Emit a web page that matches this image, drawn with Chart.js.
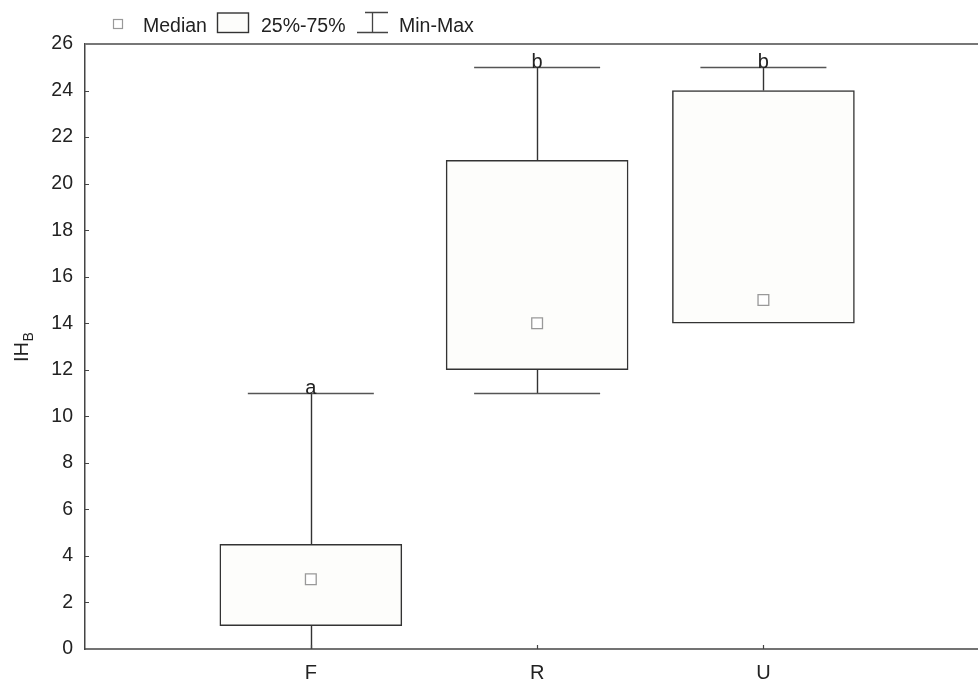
<!DOCTYPE html>
<html>
<head>
<meta charset="utf-8">
<script src="https://cdn.jsdelivr.net/npm/chart.js@4.4.1/dist/chart.umd.min.js"></script>
<style>
html,body{margin:0;padding:0;background:#fff;overflow:hidden;}
#wrap{width:978px;height:682px;}
</style>
</head>
<body>
<div id="wrap"><canvas id="c" width="978" height="682"></canvas></div>
<script>
const categories = ['F', 'R', 'U'];
const minVals = [0, 11, 14];
const q1Vals = [1, 12, 14];
const medianVals = [3, 14, 15];
const q3Vals = [4.5, 21, 24];
const maxVals = [11, 25, 25];
const groupLetters = ['a', 'b', 'b'];
const yTicks = [0, 2, 4, 6, 8, 10, 12, 14, 16, 18, 20, 22, 24, 26];
const legendLabels = ['Median', '25%-75%', 'Min-Max'];
const yTitle = 'IH';
const yTitleSub = 'B';

const FONT = '"Liberation Sans", Arial, sans-serif';
const TXT = '#222';

const extras = {
  id: 'extras',
  beforeDatasetsDraw(chart) {
    const {ctx, scales: {x, y}} = chart;
    const capHalf = 63;
    ctx.save();
    ctx.strokeStyle = '#333';
    ctx.lineWidth = 1.4;
    categories.forEach((c, i) => {
      const px = Math.round(x.getPixelForValue(i)) + 0.5;
      ctx.beginPath();
      ctx.moveTo(px, y.getPixelForValue(q3Vals[i]));
      ctx.lineTo(px, y.getPixelForValue(maxVals[i]));
      ctx.moveTo(px, y.getPixelForValue(q1Vals[i]));
      ctx.lineTo(px, y.getPixelForValue(minVals[i]));
      ctx.stroke();
    });
    ctx.strokeStyle = '#555';
    ctx.lineWidth = 1.6;
    categories.forEach((c, i) => {
      const px = x.getPixelForValue(i);
      const vals = [maxVals[i]];
      if (minVals[i] > y.min && minVals[i] < q1Vals[i]) vals.push(minVals[i]);
      vals.forEach(v => {
        const py = Math.round(y.getPixelForValue(v)) + 0.5;
        ctx.beginPath();
        ctx.moveTo(px - capHalf, py);
        ctx.lineTo(px + capHalf, py);
        ctx.stroke();
      });
    });
    ctx.restore();
  },
  afterDatasetsDraw(chart) {
    const {ctx, chartArea: a, scales: {x, y}} = chart;
    ctx.save();
    ctx.fillStyle = TXT;
    ctx.font = '20px ' + FONT;
    ctx.textAlign = 'center';
    ctx.textBaseline = 'alphabetic';
    categories.forEach((c, i) => {
      ctx.fillText(groupLetters[i], x.getPixelForValue(i), y.getPixelForValue(maxVals[i]) + 0.5);
    });
    ctx.strokeStyle = '#444';
    ctx.lineWidth = 1.2;
    ctx.beginPath();
    yTicks.forEach(v => {
      if (v === y.min || v === y.max) return;
      const py = Math.round(y.getPixelForValue(v)) + 0.5;
      ctx.moveTo(a.left, py);
      ctx.lineTo(a.left + 4, py);
    });
    categories.forEach((c, i) => {
      const px = Math.round(x.getPixelForValue(i)) + 0.5;
      ctx.moveTo(px, a.bottom);
      ctx.lineTo(px, a.bottom - 4);
    });
    ctx.stroke();
    ctx.strokeStyle = '#777';
    ctx.lineWidth = 2;
    ctx.beginPath();
    ctx.moveTo(a.left, a.top);
    ctx.lineTo(chart.width, a.top);
    ctx.stroke();
    ctx.restore();
  },
  afterDraw(chart) {
    const {ctx, chartArea: a} = chart;
    ctx.save();
    // bottom axis line across full width
    ctx.strokeStyle = '#444';
    ctx.lineWidth = 1.5;
    ctx.beginPath();
    ctx.moveTo(a.left - 0.75, a.bottom);
    ctx.lineTo(chart.width, a.bottom);
    ctx.stroke();
    ctx.fillStyle = TXT;
    ctx.font = '19.5px ' + FONT;
    ctx.textAlign = 'left';
    ctx.textBaseline = 'alphabetic';
    ctx.fillStyle = '#fff';
    ctx.strokeStyle = '#999';
    ctx.lineWidth = 1.2;
    ctx.fillRect(113, 19, 10, 10);
    ctx.strokeRect(113.5, 19.5, 9, 9);
    ctx.fillStyle = TXT;
    ctx.fillText(legendLabels[0], 143, 31.5);
    ctx.strokeStyle = '#333';
    ctx.lineWidth = 1.4;
    ctx.fillStyle = '#fdfdfb';
    ctx.fillRect(217.5, 13, 31, 19.5);
    ctx.strokeRect(217.5, 13, 31, 19.5);
    ctx.fillStyle = TXT;
    ctx.fillText(legendLabels[1], 261, 31.5);
    ctx.strokeStyle = '#444';
    ctx.lineWidth = 1.3;
    ctx.beginPath();
    ctx.moveTo(365, 12.5); ctx.lineTo(388, 12.5);
    ctx.moveTo(372.5, 12.5); ctx.lineTo(372.5, 32.5);
    ctx.moveTo(357, 32.5); ctx.lineTo(388, 32.5);
    ctx.stroke();
    ctx.fillText(legendLabels[2], 399, 31.5);
    ctx.translate(27.5, 362);
    ctx.rotate(-Math.PI / 2);
    ctx.font = '20px ' + FONT;
    ctx.fillText(yTitle, 0, 0);
    const w = ctx.measureText(yTitle).width;
    ctx.font = '14px ' + FONT;
    ctx.fillText(yTitleSub, w + 0.5, 5);
    ctx.restore();
  }
};

new Chart(document.getElementById('c'), {
  type: 'bar',
  data: {
    datasets: [
      {
        type: 'scatter',
        label: 'Median',
        data: categories.map((c, i) => ({x: i, y: medianVals[i]})),
        pointStyle: 'rect',
        pointRadius: 7.6,
        pointBackgroundColor: '#fff',
        pointBorderColor: '#999',
        pointBorderWidth: 1.3,
        order: 1
      },
      {
        type: 'bar',
        label: '25%-75%',
        data: categories.map((c, i) => ({x: i, y: [q1Vals[i], q3Vals[i]]})),
        backgroundColor: '#fdfdfb',
        borderColor: '#333',
        borderWidth: 1.5,
        borderSkipped: false,
        barThickness: 182,
        order: 2
      }
    ]
  },
  options: {
    responsive: false,
    animation: false,
    devicePixelRatio: 1,
    layout: {padding: {top: 44, right: 0, left: 0, bottom: 0}},
    plugins: {legend: {display: false}, tooltip: {enabled: false}},
    scales: {
      x: {
        type: 'linear',
        min: -0.998,
        max: 2.909,
        offset: false,
        grid: {display: true, drawOnChartArea: false, drawTicks: false},
        border: {display: false},
        afterBuildTicks: s => { s.ticks = categories.map((c, i) => ({value: i})); },
        afterFit: s => { s.height = 33; },
        ticks: {
          autoSkip: false, maxRotation: 0, padding: 12,
          color: TXT, font: {family: FONT, size: 20},
          callback: v => categories[v]
        }
      },
      y: {
        min: 0, max: 26,
        grid: {display: true, drawOnChartArea: false, drawTicks: false},
        border: {display: true, color: '#444', width: 1.5},
        afterBuildTicks: s => { s.ticks = yTicks.map(v => ({value: v})); },
        afterFit: s => { s.width = 85; },
        ticks: {
          padding: 12, color: TXT, font: {family: FONT, size: 19.5}
        }
      }
    }
  },
  plugins: [extras]
});
</script>
</body>
</html>
